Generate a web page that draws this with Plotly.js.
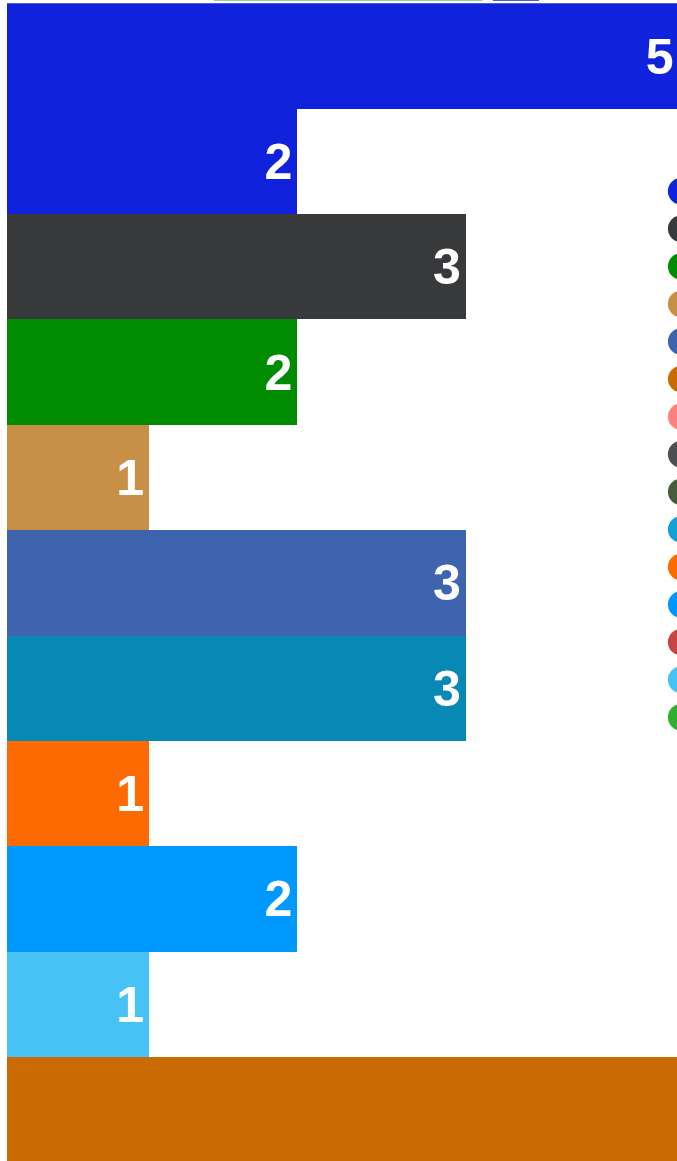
<!DOCTYPE html>
<html>
<head>
<meta charset="utf-8">
<script src="https://cdn.plot.ly/plotly-3.0.1.min.js"></script>
<style>
  html, body { margin: 0; padding: 0; overflow: hidden; background: #ffffff; width: 677px; height: 1161px; }
  #wrap { position: absolute; left: 0; top: 0; width: 677px; height: 1161px; overflow: hidden; }
  #chart { width: 600px; height: 696px; transform: scale(1.67); transform-origin: 0 0; }
</style>
</head>
<body>
<div id="wrap"><div id="chart"></div></div>
<script>
// ---- data ----
const categories = ["A", "B", "C", "D", "E", "F", "G", "H", "I", "J", "K"];
const barLabels  = ["5", "2", "3", "2", "1", "3", "3", "1", "2", "1", "6"];
const barLengths = [4.39, 1.90, 3.00, 1.90, 0.93, 3.00, 3.00, 0.93, 1.90, 0.93, 6.00];
const barColors  = ["#1122dd", "#1122dd", "#38393b", "#008c00", "#c88f47", "#3d64ad",
                    "#0888b4", "#ff6a00", "#0099ff", "#47c2f5", "#c96a02"];

const legendNames  = ["Series 1", "Series 2", "Series 3", "Series 4", "Series 5",
                      "Series 6", "Series 7", "Series 8", "Series 9", "Series 10",
                      "Series 11", "Series 12", "Series 13", "Series 14", "Series 15"];
const legendColors = ["#1122dd", "#38393b", "#008c00", "#c88f47", "#3d64ad",
                      "#c96a02", "#ff8080", "#4d4e50", "#485b3b", "#14a0d2",
                      "#ff6a00", "#0096ff", "#c94545", "#47c2f5", "#2eaf2e"];

const traces = [{
  type: "bar",
  orientation: "h",
  y: categories,
  x: barLengths,
  text: barLabels,
  textposition: "inside",
  insidetextanchor: "end",
  textangle: 0,
  textfont: { color: "#ffffff", size: 30, family: "Liberation Sans, Arial, Helvetica, sans-serif", weight: 700 },
  marker: { color: barColors, line: { width: 0 } },
  showlegend: false,
  hoverinfo: "none"
}];

legendNames.forEach(function (n, i) {
  traces.push({
    type: "scatter",
    mode: "markers",
    x: [null],
    y: [null],
    name: n,
    marker: { color: legendColors[i], size: 16, symbol: "circle" },
    showlegend: true,
    hoverinfo: "none"
  });
});

const layout = {
  width: 600,
  height: 696,
  margin: { l: 4.19, r: 0, t: 2.4, b: 0, pad: 0, autoexpand: false },
  paper_bgcolor: "#ffffff",
  plot_bgcolor: "#ffffff",
  bargap: 0,
  font: { family: "Liberation Sans, Arial, Helvetica, sans-serif", size: 15, color: "#444444" },
  xaxis: { range: [0, 6.503], showgrid: false, zeroline: false, showticklabels: false, ticks: "", showline: false },
  yaxis: { type: "category", autorange: "reversed", showgrid: false, zeroline: false, showticklabels: false, ticks: "", showline: false },
  showlegend: true,
  legend: {
    x: 0.6442, xanchor: "left",
    y: 0.8613, yanchor: "top",
    orientation: "v",
    bgcolor: "rgba(0,0,0,0)",
    borderwidth: 0,
    font: { size: 15 }
  },
  shapes: [
    { type: "rect", xref: "paper", yref: "paper", x0: 0.208, x1: 0.478, y0: 1.0022, y1: 1.0040,
      fillcolor: "#78c05a", line: { width: 0 } },
    { type: "rect", xref: "paper", yref: "paper", x0: 0.4885, x1: 0.5348, y0: 1.0022, y1: 1.0040,
      fillcolor: "#1122dd", line: { width: 0 } }
  ]
};

Plotly.newPlot("chart", traces, layout, { displayModeBar: false, responsive: false, staticPlot: true });
</script>
</body>
</html>
